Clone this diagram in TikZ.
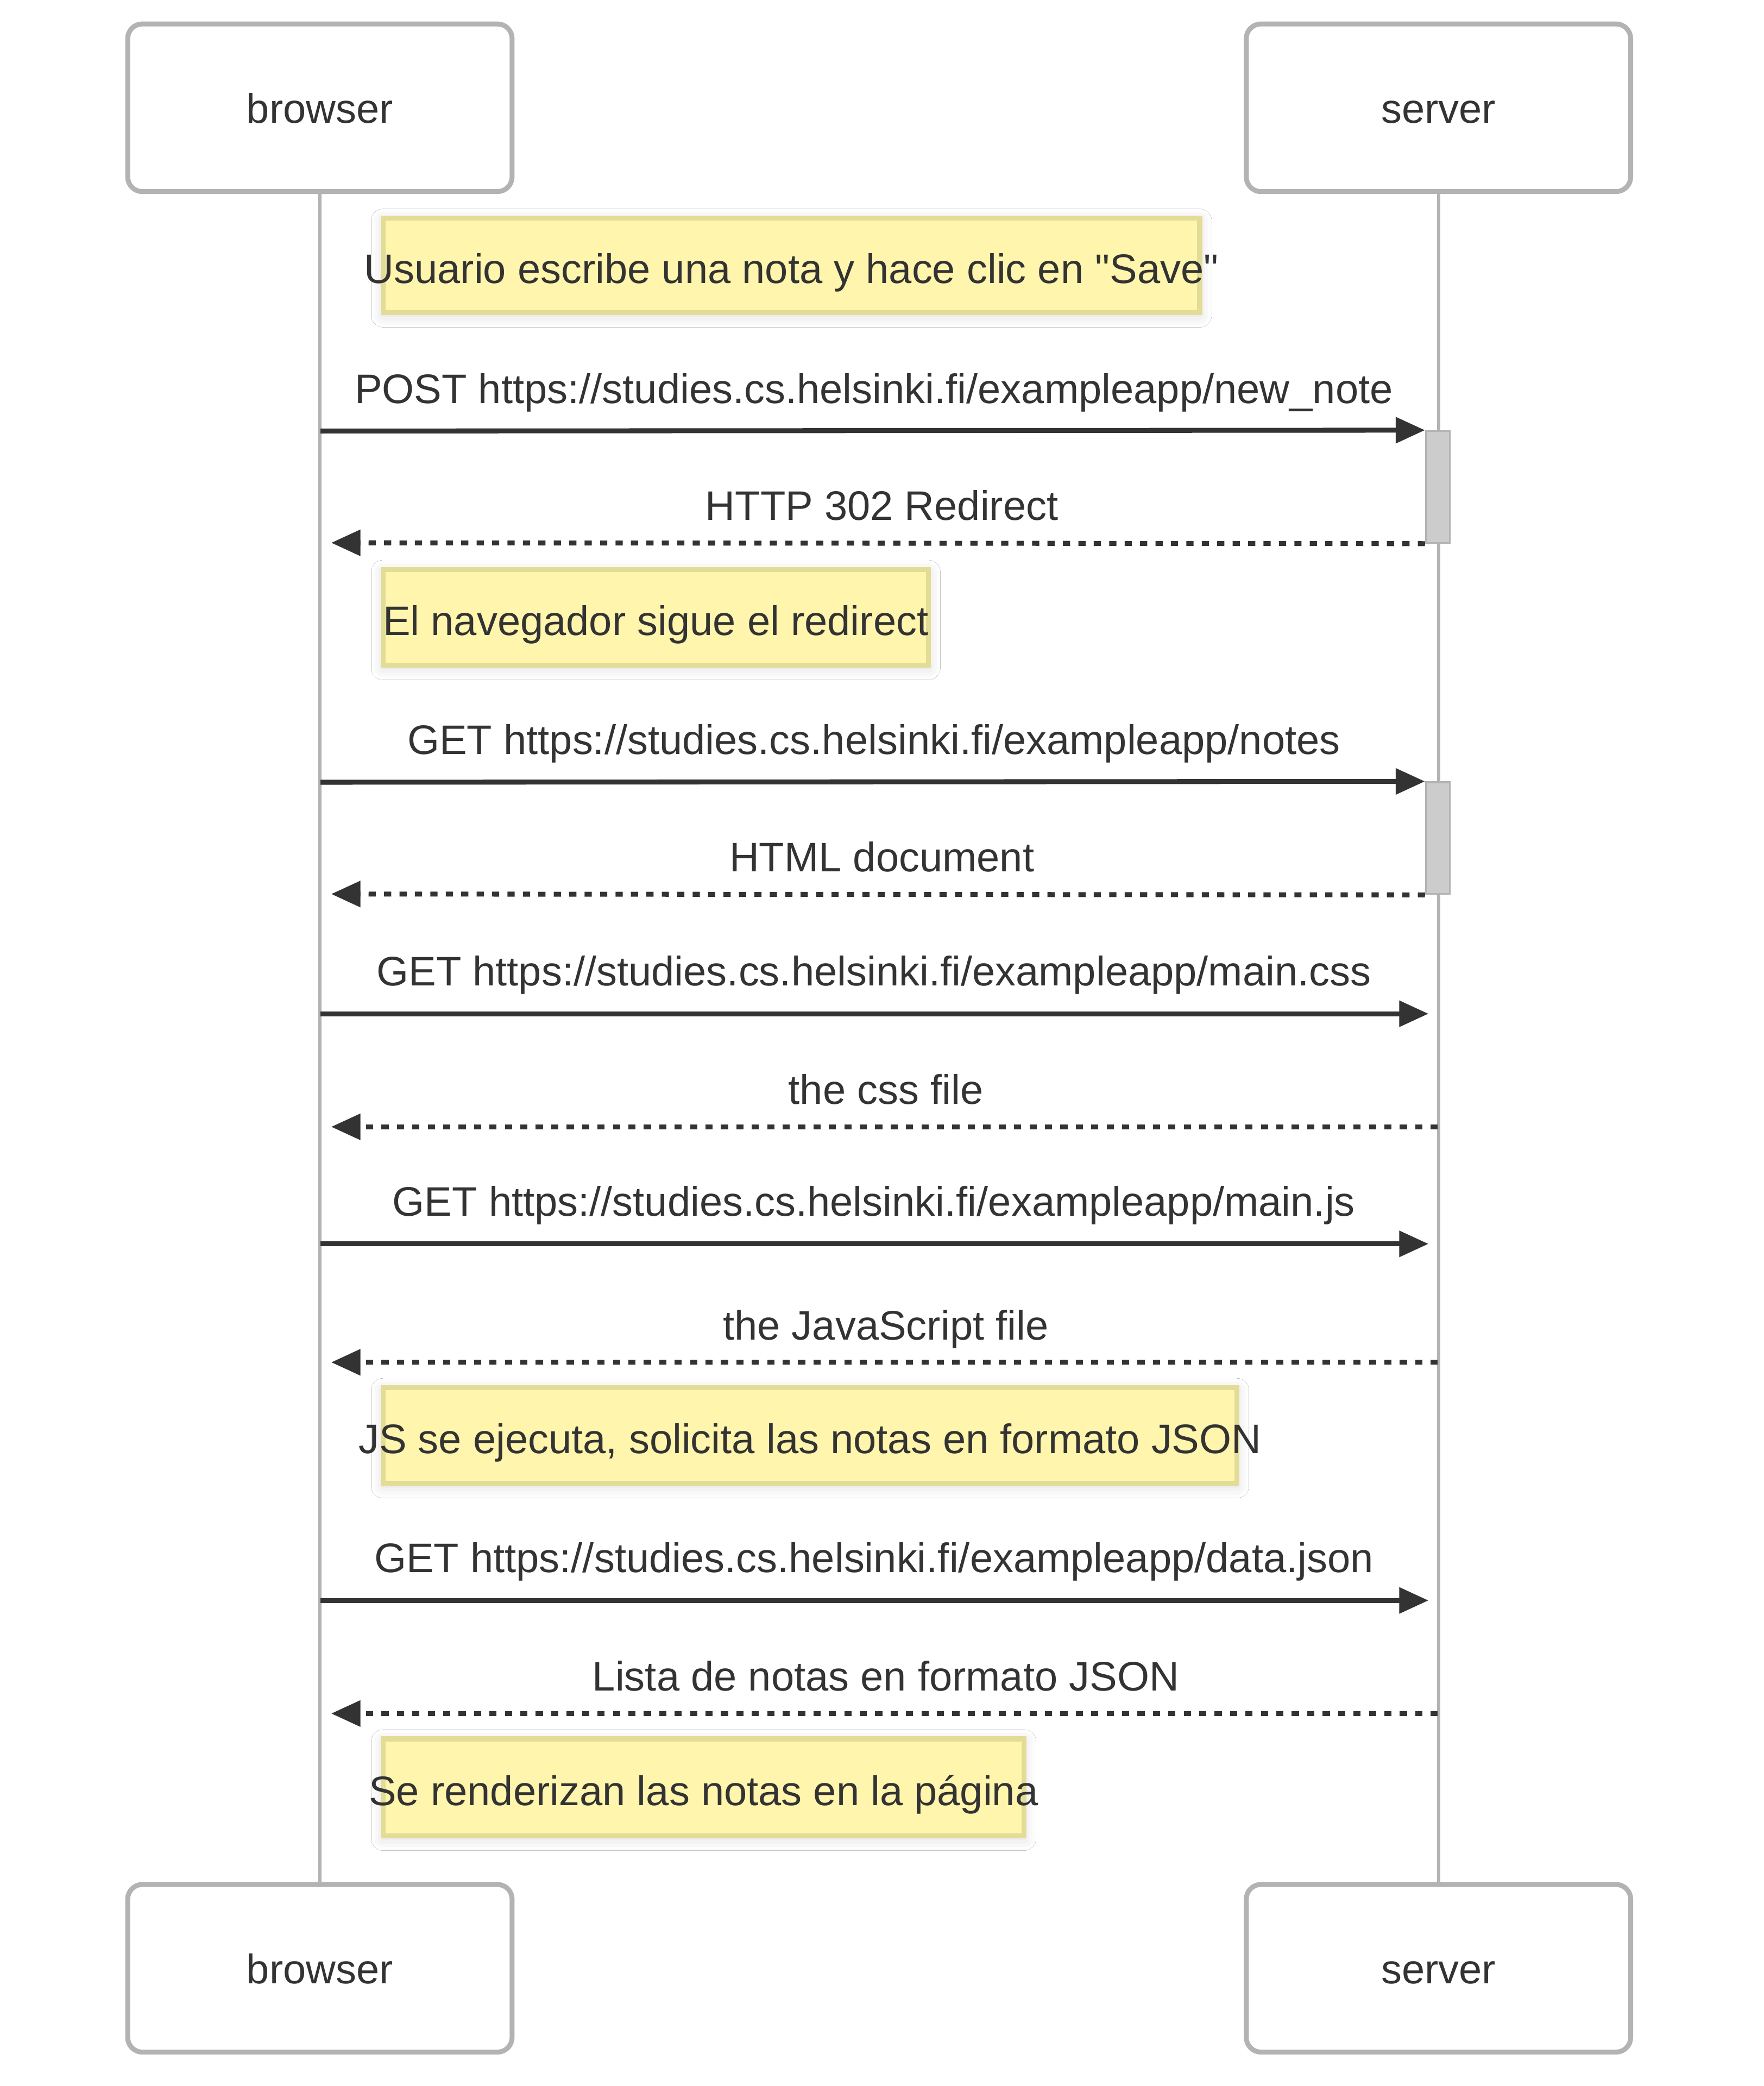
\documentclass[tikz,border=0pt]{standalone}
\usepackage{fontspec}
\newfontfamily\lib{Liberation Sans}
\usetikzlibrary{arrows.meta,shadows.blur}
\definecolor{txt}{HTML}{333333}
\definecolor{actline}{HTML}{B3B3B3}
\definecolor{notefill}{HTML}{FFF5AD}
\definecolor{noteline}{HTML}{E3DC96}
\definecolor{actfill}{HTML}{CCCCCC}
\tikzset{
  actor/.style={draw=actline, line width=3.7pt, fill=white, rounded corners=11pt,
    minimum width=289pt, minimum height=126pt, inner sep=0pt},
  life/.style={draw=actline, line width=2.4pt},
  notebox/.style={draw=noteline, line width=3.8pt, fill=notefill, inner sep=0pt,
    blur shadow={shadow xshift=0pt, shadow yshift=-2pt, shadow blur radius=9pt, shadow opacity=15}},
  lbl/.style={text=txt, inner sep=0pt, anchor=base, font=\lib\fontsize{31}{37}\selectfont},
  msg/.style={draw=txt, line width=3.7pt, -{Triangle[length=22pt,width=19pt]}},
  ret/.style={msg, dash pattern=on 5.4pt off 6.2pt},
  actbox/.style={draw=actline, line width=1.3pt, fill=actfill, minimum width=18pt, minimum height=84pt, inner sep=0pt},
}
\begin{document}
\begin{tikzpicture}[x=1pt,y=-1pt]
\useasboundingbox (0,0) rectangle (1326,1568);
\fill[white] (0,0) rectangle (1326,1568);
% actors
\node[actor] (bt) at (240.5,81) {};
\node[lbl] at ([yshift=-11.5pt]bt.center) {browser};
\node[actor] (st) at (1081.5,81) {};
\node[lbl] at ([yshift=-11.5pt]st.center) {server};
\node[actor] (bb) at (240.5,1479.5) {};
\node[lbl] at ([yshift=-11.5pt]bb.center) {browser};
\node[actor] (sb) at (1081.5,1479.5) {};
\node[lbl] at ([yshift=-11.5pt]sb.center) {server};
% lifelines
\draw[life] (bt.south) -- (bb.north);
\draw[life] (st.south) -- (sb.north);
% activations
\node[actbox] (a1) at (1081,366) {};
\node[actbox] (a2) at (1081,630) {};
% notes
\node[notebox, minimum width=614pt, minimum height=71pt] (n1) at (595,199.5) {};
\node[lbl] at ([yshift=-13.5pt]n1.center) {Usuario escribe una nota y hace clic en "Save"};
\node[notebox, minimum width=410pt, minimum height=72pt] (n2) at (493,464) {};
\node[lbl] at ([yshift=-13.5pt]n2.center) {El navegador sigue el redirect};
\node[notebox, minimum width=642pt, minimum height=72pt] (n3) at (609,1079) {};
\node[lbl] at ([yshift=-13.5pt]n3.center) {JS se ejecuta, solicita las notas en formato JSON};
\node[notebox, minimum width=482pt, minimum height=73pt] (n4) at (529,1343.5) {};
\node[lbl] at ([yshift=-13.5pt]n4.center) {Se renderizan las notas en la página};
% message end points
\coordinate (b1) at (241,324);
\coordinate (b2) at (249,408);
\coordinate (b3) at (241,588);
\coordinate (b4) at (249,672);
\coordinate (b5) at (241,762);  \coordinate (s5) at (1074,762);
\coordinate (b6) at (249,847);  \coordinate (s6) at (1081,847);
\coordinate (b7) at (241,935);  \coordinate (s7) at (1074,935);
\coordinate (b8) at (249,1024); \coordinate (s8) at (1081,1024);
\coordinate (b9) at (241,1203); \coordinate (s9) at (1074,1203);
\coordinate (b10) at (249,1288); \coordinate (s10) at (1081,1288);
% messages
\draw[msg] (b1) -- (a1.north west);
\node[lbl] at (657,303) {POST https://studies.cs.helsinki.fi/exampleapp/new\_note};
\draw[ret] (a1.south west) -- (b2);
\node[lbl] at (663,391) {HTTP 302 Redirect};
\draw[msg] (b3) -- (a2.north west);
\node[lbl] at (657,567) {GET https://studies.cs.helsinki.fi/exampleapp/notes};
\draw[ret] (a2.south west) -- (b4);
\node[lbl] at (663,655) {HTML document};
\draw[msg] (b5) -- (s5);
\node[lbl] at (657,741) {GET https://studies.cs.helsinki.fi/exampleapp/main.css};
\draw[ret] (s6) -- (b6);
\node[lbl] at (666,830) {the css file};
\draw[msg] (b7) -- (s7);
\node[lbl] at (657,914) {GET https://studies.cs.helsinki.fi/exampleapp/main.js};
\draw[ret] (s8) -- (b8);
\node[lbl] at (666,1007) {the JavaScript file};
\draw[msg] (b9) -- (s9);
\node[lbl] at (657,1182) {GET https://studies.cs.helsinki.fi/exampleapp/data.json};
\draw[ret] (s10) -- (b10);
\node[lbl] at (666,1271) {Lista de notas en formato JSON};
\end{tikzpicture}
\end{document}
